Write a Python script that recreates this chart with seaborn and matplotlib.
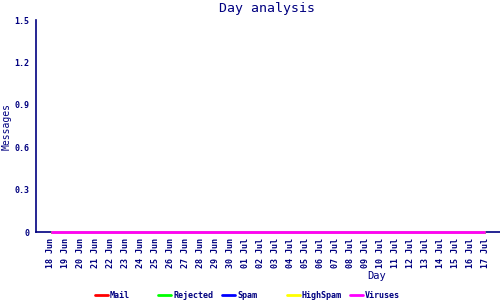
import matplotlib
matplotlib.use("Agg")
import matplotlib.pyplot as plt
import seaborn as sns
import pandas as pd
from matplotlib.lines import Line2D

days = ["18 Jun", "19 Jun", "20 Jun", "21 Jun", "22 Jun", "23 Jun", "24 Jun", "25 Jun",
        "26 Jun", "27 Jun", "28 Jun", "29 Jun", "30 Jun", "01 Jul", "02 Jul", "03 Jul",
        "04 Jul", "05 Jul", "06 Jul", "07 Jul", "08 Jul", "09 Jul", "10 Jul", "11 Jul",
        "12 Jul", "13 Jul", "14 Jul", "15 Jul", "16 Jul", "17 Jul"]
mail = [0] * 30
rejected = [0] * 30
spam = [0] * 30
highspam = [0] * 30
viruses = [0] * 30
series_names = ["Mail", "Rejected", "Spam", "HighSpam", "Viruses"]
series_colors = ["#ff0000", "#00ff00", "#0000ff", "#ffff00", "#ff00ff"]
yticks = [0, 0.3, 0.6, 0.9, 1.2, 1.5]
ytick_labels = ["0", "0.3", "0.6", "0.9", "1.2", "1.5"]

sns.set_style("white")
plt.rcParams["font.family"] = ["DejaVu Sans Mono"]
navy = "#000080"

rows = []
for name, vals in zip(series_names, [mail, rejected, spam, highspam, viruses]):
    for i, v in enumerate(vals):
        rows.append({"idx": i, "value": v, "series": name})
df = pd.DataFrame(rows)

fig = plt.figure(figsize=(5, 3), dpi=100)
ax = fig.add_axes([36 / 500, 1 - 232 / 300, 464 / 500, 212 / 300])
sns.lineplot(data=df, x="idx", y="value", hue="series", hue_order=series_names,
             palette=series_colors, linewidth=2.0, ax=ax, legend=False)
for ln in ax.get_lines():
    ln.set_clip_on(False)
    ln.set_zorder(5)
    ln.set_solid_capstyle("butt")

ax.set_xlim(-1, 30)
ax.set_ylim(0, 1.5)
ax.set_xticks(range(len(days)))
ax.set_xticklabels(days, rotation=90, fontsize=6, color=navy, fontweight="bold")
ax.set_yticks(yticks)
ax.set_yticklabels(ytick_labels, fontsize=6, color=navy, fontweight="bold")
ax.tick_params(axis="both", direction="in", length=3.5, width=1, color=navy)
ax.tick_params(axis="x", pad=4)
ax.tick_params(axis="y", pad=5)
for s in ["top", "right"]:
    ax.spines[s].set_visible(False)
for s in ["left", "bottom"]:
    ax.spines[s].set_color(navy)
    ax.spines[s].set_linewidth(1.2)

ax.set_xlabel("Day", fontsize=7.5, color=navy, va="top")
ax.xaxis.set_label_coords((377 - 36) / 464, -0.185)
ax.set_ylabel("Messages", fontsize=7, color=navy)
ax.yaxis.set_label_coords(-0.052, 0.5)

fig.text(267 / 500, 1 - 8.5 / 300, "Day analysis", ha="center", va="center",
         fontsize=9.5, color=navy)

starts = [95, 158, 222, 287, 350]
for name, col, x0 in zip(series_names, series_colors, starts):
    h = Line2D([], [], color=col, linewidth=2)
    fig.legend([h], [name], loc="center left", bbox_to_anchor=(x0 / 500, 1 - 295 / 300),
               frameon=False, prop={"size": 6, "weight": "bold"}, handlelength=1.6,
               handletextpad=0.2, borderpad=0, borderaxespad=0, labelcolor=navy)

fig.savefig("out.png", dpi=100)
